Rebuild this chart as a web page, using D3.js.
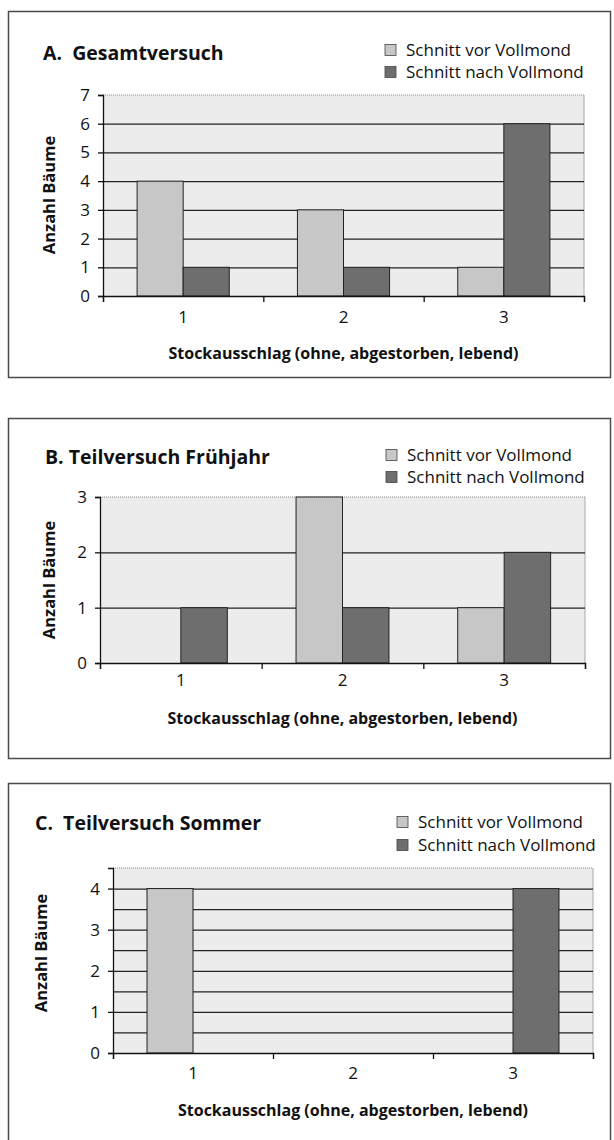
<!DOCTYPE html>
<html>
<head>
<meta charset="utf-8">
<script src="https://cdn.jsdelivr.net/npm/d3@7"></script>
<style>
  body { margin: 0; background: #fff; }
  svg text { font-family: "Open Sans", sans-serif; fill: #111; }
</style>
</head>
<body>
<div id="chart"></div>
<script>
// canvas
var w = 614;
var h = 1140;

// data
var categories = ["1", "2", "3"];
var seriesNames = ["Schnitt vor Vollmond", "Schnitt nach Vollmond"];
var xTitle = "Stockausschlag (ohne, abgestorben, lebend)";
var yTitle = "Anzahl Bäume";

var gesamtVor = [4, 3, 1];
var gesamtNach = [1, 1, 6];
var fruehjahrVor = [0, 3, 1];
var fruehjahrNach = [1, 1, 2];
var sommerVor = [4, 0, 0];
var sommerNach = [0, 0, 4];

var yTicksA = [0, 1, 2, 3, 4, 5, 6, 7];
var yTicksB = [0, 1, 2, 3];
var yTicksC = [0, 1, 2, 3, 4];
var gridA = [1, 2, 3, 4, 5, 6];
var gridB = [1, 2];
var gridC = [0.5, 1, 1.5, 2, 2.5, 3, 3.5, 4];

var colors = ["#c7c7c7", "#6e6e6e"];

var svg = d3.select("#chart")
  .append("svg")
  .attr("width", w)
  .attr("height", h);

// one panel = one framed grouped bar chart
function panel(opt) {
  var g = svg.append("g");

  // frame
  g.append("rect")
    .attr("x", 8.5)
    .attr("y", opt.boxTop)
    .attr("width", 602)
    .attr("height", opt.boxH)
    .attr("fill", "none")
    .attr("stroke", "#4a4a4a")
    .attr("stroke-width", 1.5);

  // title
  g.append("text")
    .attr("x", opt.titleX)
    .attr("y", opt.titleY)
    .attr("dy", "0.35em")
    .style("font-size", "19.5px")
    .style("font-weight", "bold")
    .attr("xml:space", "preserve")
    .text(opt.title);

  // legend
  var leg = g.selectAll(".leg")
    .data(seriesNames)
    .enter().append("g")
    .attr("transform", (d, i) => "translate(" + opt.legX + "," + opt.legY[i] + ")");
  leg.append("rect")
    .attr("x", 0).attr("y", -5.5)
    .attr("width", 11).attr("height", 11)
    .attr("fill", (d, i) => colors[i])
    .attr("stroke", "#444").attr("stroke-width", 0.8);
  leg.append("text")
    .attr("x", 21)
    .attr("dy", "0.35em")
    .style("font-size", "17px")
    .text(d => d);

  // scales
  var x0 = d3.scaleBand()
    .domain(categories)
    .range([opt.left, opt.right]);
  var x1 = d3.scaleBand()
    .domain(seriesNames)
    .range([0, x0.bandwidth()])
    .paddingInner(0)
    .paddingOuter(0.74);
  var y = d3.scaleLinear()
    .domain([0, opt.yMax])
    .range([opt.bottom, opt.top]);

  // plot area
  g.append("rect")
    .attr("x", opt.left)
    .attr("y", opt.top)
    .attr("width", opt.right - opt.left)
    .attr("height", opt.bottom - opt.top)
    .attr("fill", "#ececec");
  g.append("line")
    .attr("x1", opt.left).attr("x2", opt.right)
    .attr("y1", opt.top).attr("y2", opt.top)
    .attr("stroke", "#888").attr("stroke-dasharray", "1,1");
  g.append("line")
    .attr("x1", opt.right).attr("x2", opt.right)
    .attr("y1", opt.top).attr("y2", opt.bottom)
    .attr("stroke", "#aaa");

  // gridlines
  var grid = g.append("g")
    .attr("transform", "translate(" + opt.left + ",0)")
    .call(d3.axisLeft(y).tickValues(opt.grid).tickSize(-(opt.right - opt.left)).tickFormat(""));
  grid.select(".domain").remove();
  grid.selectAll("line").attr("stroke", "#222").attr("stroke-width", 1.3);

  // bars
  var rows = categories.map((c, i) => ({ cat: c, values: [opt.vor[i], opt.nach[i]] }));
  g.selectAll(".grp")
    .data(rows)
    .enter().append("g")
    .attr("transform", d => "translate(" + x0(d.cat) + ",0)")
    .selectAll("rect")
    .data(d => d.values.map((v, i) => ({ key: seriesNames[i], i: i, v: v })).filter(d => d.v > 0))
    .enter().append("rect")
    .attr("x", d => x1(d.key))
    .attr("y", d => y(d.v))
    .attr("width", x1.bandwidth())
    .attr("height", d => y(0) - y(d.v))
    .attr("fill", d => colors[d.i])
    .attr("stroke", "#222")
    .attr("stroke-width", 1);

  // y axis
  var yAxis = g.append("g")
    .attr("transform", "translate(" + opt.left + ",0)")
    .call(d3.axisLeft(y).tickValues(opt.yTicks).tickSize(5).tickPadding(8).tickFormat(d3.format("d")));
  yAxis.selectAll("text").style("font-size", "17px").attr("fill", "#111");
  yAxis.selectAll("line, path").attr("stroke", "#111").attr("stroke-width", 1.3);

  // x axis: ticks at category borders, labels at centres
  var xEdge = d3.scaleLinear().domain([0, categories.length]).range([opt.left, opt.right]);
  var xAxis = g.append("g")
    .attr("transform", "translate(0," + opt.bottom + ")")
    .call(d3.axisBottom(xEdge).tickValues([0, 1, 2, 3]).tickSize(6).tickFormat(""));
  xAxis.selectAll("line, path").attr("stroke", "#111").attr("stroke-width", 1.3);
  var xLab = g.append("g")
    .attr("transform", "translate(0," + opt.bottom + ")")
    .call(d3.axisBottom(x0).tickSize(0).tickPadding(opt.xPad));
  xLab.select(".domain").remove();
  xLab.selectAll("text").style("font-size", "17px").attr("fill", "#111");

  // axis titles
  g.append("text")
    .attr("x", (opt.left + opt.right) / 2)
    .attr("y", opt.xTitleY)
    .attr("dy", "0.35em")
    .attr("text-anchor", "middle")
    .style("font-size", "16px")
    .style("font-weight", "bold")
    .text(xTitle);
  g.append("text")
    .attr("transform", "translate(" + opt.yTitleX + "," + opt.yTitleY + ") rotate(-90)")
    .attr("dy", "0.35em")
    .attr("text-anchor", "middle")
    .style("font-size", "16.5px")
    .style("font-weight", "bold")
    .text(yTitle);
}

panel({
  title: "A.  Gesamtversuch", titleX: 43, titleY: 53,
  boxTop: 11.5, boxH: 366,
  legX: 385, legY: [50, 72],
  left: 103, right: 584, top: 95, bottom: 296, yMax: 7,
  yTicks: yTicksA, grid: gridA, vor: gesamtVor, nach: gesamtNach,
  xPad: 15, xTitleY: 353, yTitleX: 49, yTitleY: 195
});

panel({
  title: "B. Teilversuch Frühjahr", titleX: 45, titleY: 457,
  boxTop: 418.5, boxH: 340,
  legX: 386, legY: [455, 477],
  left: 100, right: 585, top: 497, bottom: 663, yMax: 3,
  yTicks: yTicksB, grid: gridB, vor: fruehjahrVor, nach: fruehjahrNach,
  xPad: 11, xTitleY: 718, yTitleX: 49, yTitleY: 580
});

panel({
  title: "C.  Teilversuch Sommer", titleX: 35, titleY: 823,
  boxTop: 783.5, boxH: 380,
  legX: 397, legY: [822, 845],
  left: 113, right: 593, top: 868, bottom: 1053, yMax: 4.5,
  yTicks: yTicksC, grid: gridC, vor: sommerVor, nach: sommerNach,
  xPad: 14, xTitleY: 1110, yTitleX: 41, yTitleY: 953
});
</script>
</body>
</html>
